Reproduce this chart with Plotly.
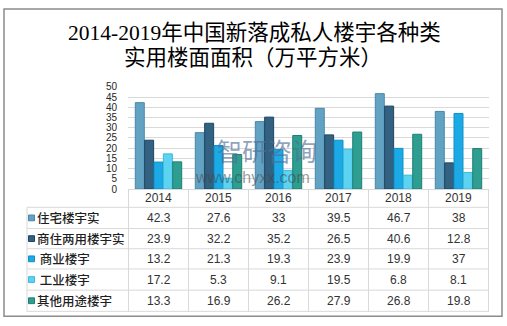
import plotly.graph_objects as go

years = ["2014", "2015", "2016", "2017", "2018", "2019"]
series_names = ["住宅楼宇实", "商住两用楼宇实", " 商业楼宇", " 工业楼宇", "其他用途楼宇"]
residential = [42.3, 27.6, 33, 39.5, 46.7, 38]
mixed_use = [23.9, 32.2, 35.2, 26.5, 40.6, 12.8]
commercial = [13.2, 21.3, 19.3, 23.9, 19.9, 37]
industrial = [17.2, 5.3, 9.1, 19.5, 6.8, 8.1]
other_use = [13.3, 16.9, 26.2, 27.9, 26.8, 19.8]
y_ticks = [0, 5, 10, 15, 20, 25, 30, 35, 40, 45, 50]

all_series = [residential, mixed_use, commercial, industrial, other_use]
fills = ["#62A3C4", "#336182", "#1CAAE6", "#5CD3F1", "#2E9E91"]
edges = ["#4A87A8", "#1F4562", "#1190C6", "#3BB9D9", "#1F7F74"]

W, H = 507, 326
def px(x):
    return x / W
def py(y):
    return 1 - y / H

fig = go.Figure()
for name, vals, c, e in zip(series_names, all_series, fills, edges):
    fig.add_trace(go.Bar(x=years, y=vals, name=name.strip(),
                         marker=dict(color=c, line=dict(color=e, width=1))))

grid = "#D9D9D9"
shapes = []
annotations = []

# table horizontal lines
row_lines = [209, 231, 252, 273, 295, 317]
for yl in row_lines:
    shapes.append(dict(type="line", xref="paper", yref="paper",
                       x0=px(27), x1=px(489), y0=py(yl), y1=py(yl),
                       line=dict(color=grid, width=1)))
# vertical lines on category boundaries
for i in range(len(years) + 1):
    shapes.append(dict(type="line", xref="x", yref="paper",
                       x0=i - 0.5, x1=i - 0.5, y0=py(190), y1=py(317),
                       line=dict(color=grid, width=1)))
shapes.append(dict(type="line", xref="paper", yref="paper",
                   x0=px(27), x1=px(27), y0=py(209), y1=py(317),
                   line=dict(color=grid, width=1)))

num_font = dict(family="Liberation Sans Narrow, Liberation Sans", size=12, color="#333333")

# header years
for i, yr in enumerate(years):
    annotations.append(dict(x=i, y=py(199.5), xref="x", yref="paper", text=yr,
                            showarrow=False, xanchor="center", yanchor="middle",
                            font=num_font))

row_centers = [(row_lines[k] + row_lines[k + 1]) / 2 for k in range(5)]
for k, (name, vals) in enumerate(zip(series_names, all_series)):
    yc = row_centers[k]
    # legend key square
    shapes.append(dict(type="rect", xref="paper", yref="paper",
                       x0=px(28.5), x1=px(34.5), y0=py(yc + 3), y1=py(yc - 3),
                       fillcolor=fills[k], line=dict(color=edges[k], width=1)))
    annotations.append(dict(x=px(35), y=py(yc), xref="paper", yref="paper",
                            text=name.replace(" ", "&nbsp;"), showarrow=False,
                            xanchor="left", yanchor="middle",
                            font=dict(family="Noto Sans CJK SC", size=12.5, color="#1F1F1F", weight=500)))
    for i, v in enumerate(vals):
        annotations.append(dict(x=i, y=py(yc), xref="x", yref="paper", text=f"{v:g}",
                                showarrow=False, xanchor="center", yanchor="middle",
                                font=num_font))

# title
title_font = dict(family="Liberation Serif, Noto Sans CJK SC", size=21.5, color="#000000")
annotations.append(dict(x=px(254), y=py(28), xref="paper", yref="paper",
                        text="2014-2019年中国新落成私人楼宇各种类", showarrow=False,
                        xanchor="center", yanchor="middle", font=title_font))
annotations.append(dict(x=px(253), y=py(54), xref="paper", yref="paper",
                        text="实用楼面面积（万平方米）", showarrow=False,
                        xanchor="center", yanchor="middle", font=title_font))

# watermark
annotations.append(dict(x=px(267), y=py(149), xref="paper", yref="paper",
                        text="智研咨询", showarrow=False, xanchor="center", yanchor="middle",
                        font=dict(family="Noto Sans CJK SC", size=25, color="rgba(80,110,150,0.65)")))
annotations.append(dict(x=px(252), y=py(178), xref="paper", yref="paper",
                        text="www.chyxx.com", showarrow=False, xanchor="center", yanchor="middle",
                        font=dict(family="Liberation Sans", size=16, color="rgba(70,70,70,0.55)")))

# outer border
shapes.append(dict(type="rect", xref="paper", yref="paper",
                   x0=px(4), x1=px(502), y0=py(322), y1=py(3),
                   line=dict(color="#8C8C8C", width=1.5)))

fig.update_layout(
    width=W, height=H,
    margin=dict(l=0, r=0, t=0, b=0),
    paper_bgcolor="white", plot_bgcolor="white",
    barmode="group", bargap=0.22, bargroupgap=0.04,
    showlegend=False,
    shapes=shapes, annotations=annotations,
    xaxis=dict(domain=[px(128), px(489)], showticklabels=False, ticks="",
               showgrid=False, showline=True, linecolor=grid, linewidth=1,
               fixedrange=True),
    yaxis=dict(domain=[py(190), py(84)], range=[0, 50], tickvals=y_ticks,
               showgrid=True, gridcolor=grid, gridwidth=1, zeroline=False,
               showline=False, ticks="", ticklabelstandoff=10,
               tickfont=dict(family="Liberation Sans Narrow, Liberation Sans", size=10, color="#262626"),
               fixedrange=True),
)

fig.write_html("out.html")
